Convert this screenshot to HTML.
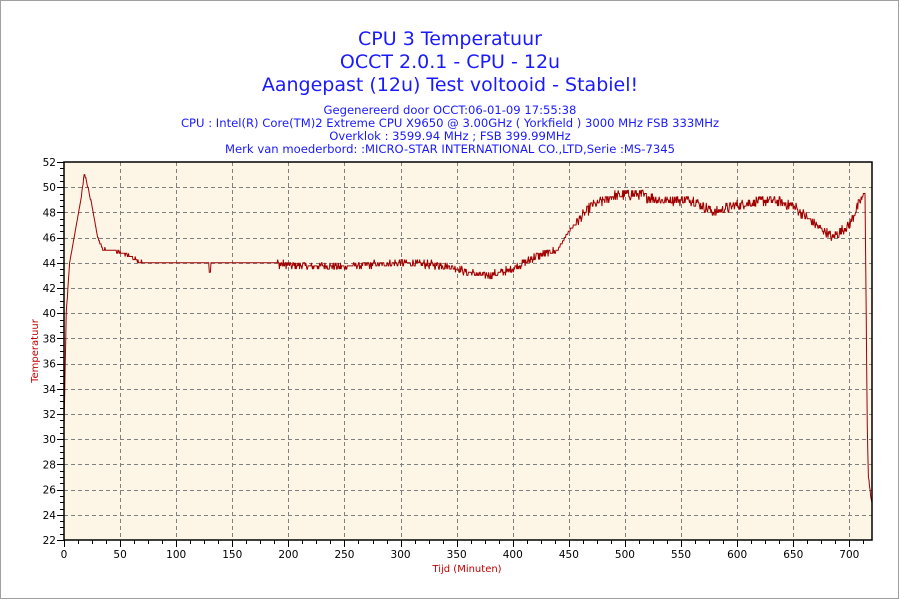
<!DOCTYPE html>
<html><head><meta charset="utf-8"><style>
body{margin:0;background:#fff;}
svg text{font-family:"DejaVu Sans","Liberation Sans",sans-serif;}
</style></head><body>
<svg id="s" width="900" height="600" xmlns="http://www.w3.org/2000/svg">
<rect x="0.5" y="0.5" width="898" height="598" fill="#fff" stroke="#a0a0a0"/>
<g fill="#1a1aff" text-anchor="middle">
<text x="450" y="45" font-size="19">CPU 3 Temperatuur</text>
<text x="450" y="68" font-size="19">OCCT 2.0.1 - CPU - 12u</text>
<text x="450" y="91" font-size="19">Aangepast (12u) Test voltooid - Stabiel!</text>
<text x="450" y="114" font-size="11.6">Gegenereerd door OCCT:06-01-09 17:55:38</text>
<text x="450" y="127" font-size="11.6">CPU : Intel(R) Core(TM)2 Extreme CPU X9650 @ 3.00GHz ( Yorkfield ) 3000 MHz FSB 333MHz</text>
<text x="450" y="140" font-size="11.6">Overklok : 3599.94 MHz ; FSB 399.99MHz</text>
<text x="450" y="153" font-size="11.6">Merk van moederbord: :MICRO-STAR INTERNATIONAL CO.,LTD,Serie :MS-7345</text>
</g>
<rect x="64" y="162" width="808" height="378" fill="#fdf5e6"/>
<g id="grid" stroke="#808080" stroke-dasharray="4,3" stroke-width="1"></g>
<g id="ticks" stroke="#000" stroke-width="1"></g>
<g id="lab" font-size="10.5" fill="#000"></g>
<path id="line" fill="none" stroke="#a00000" stroke-width="1"/>
<rect x="64" y="162" width="808" height="378" fill="none" stroke="#000" stroke-width="1.5"/>
<text x="467" y="572" font-size="10" fill="#c00000" text-anchor="middle">Tijd (Minuten)</text>
<text transform="translate(38,351) rotate(-90)" font-size="10" fill="#c00000" text-anchor="middle">Temperatuur</text>
</svg>
<script>
var NS="http://www.w3.org/2000/svg";
function X(m){return 64+m*1.1219;}function Y(t){return 162+(52-t)*12.6;}
function el(p,n,a){var e=document.createElementNS(NS,n);for(var k in a)e.setAttribute(k,a[k]);document.getElementById(p).appendChild(e);return e;}
for(var m=50;m<=700;m+=50){var x=Math.round(X(m))+.5;el("grid","line",{x1:x,x2:x,y1:162,y2:540});}
for(var t=24;t<=50;t+=2){var y=Math.round(Y(t))+.5;el("grid","line",{x1:64,x2:872,y1:y,y2:y});}
for(var m=0;m<=720;m+=12.5){var x=Math.round(X(m))+.5;el("ticks","line",{x1:x,x2:x,y1:540,y2:m%50==0?547:544});}
for(var t=22;t<=52;t+=0.5){var y=Math.round(Y(t))+.5;el("ticks","line",{x1:t%2==0?57:60,x2:64,y1:y,y2:y});}
for(var m=0;m<=700;m+=50){var e=el("lab","text",{x:X(m),y:558,"text-anchor":"middle"});e.textContent=m;}
for(var t=22;t<=52;t+=2){var e=el("lab","text",{x:56,y:Y(t)+4,"text-anchor":"end"});e.textContent=t;}
var K=[[0,31],[2,40],[5,44],[10,46.5],[15,49],[18,51],[20,50.5],[25,48.5],[30,46],[35,45],[45,45],[50,44.8],[60,44.5],[70,44],[130,44],[185,44],[200,43.8],[250,43.7],[300,44],[340,43.8],[360,43.2],[380,43],[400,43.5],[420,44.5],[440,45],[450,46.5],[470,48.5],[490,49.3],[510,49.5],[530,49],[560,49],[580,48],[600,48.6],[630,49],[650,48.5],[670,47],[685,46],[700,47],[710,49],[714,49.6],[715,40],[716,31],[717,27],[719,25.5],[720,25]];
function base(m){for(var i=1;i<K.length;i++)if(m<=K[i][0]){var a=K[i-1],b=K[i];return a[1]+(b[1]-a[1])*(m-a[0])/(b[0]-a[0]);}return 25;}
var s=12345;function r(){s=(s*1103515245+12345)%2147483648;return s/2147483648-0.5;}
var d="";
for(var m=0;m<=720;m+=0.5){var v=base(m);var amp=0;
if(m>=35&&m<70)amp=0.3;else if(m>=190&&m<440)amp=0.6;else if(m>=455&&m<712)amp=0.8;
if(amp)v+=r()*amp;
if(Math.abs(m-130)<1)v-=0.8;
v=Math.round(v*4)/4;
d+=(d?"L":"M")+X(m).toFixed(1)+","+Y(v).toFixed(1);}
document.getElementById("line").setAttribute("d",d);
</script>
</body></html>
